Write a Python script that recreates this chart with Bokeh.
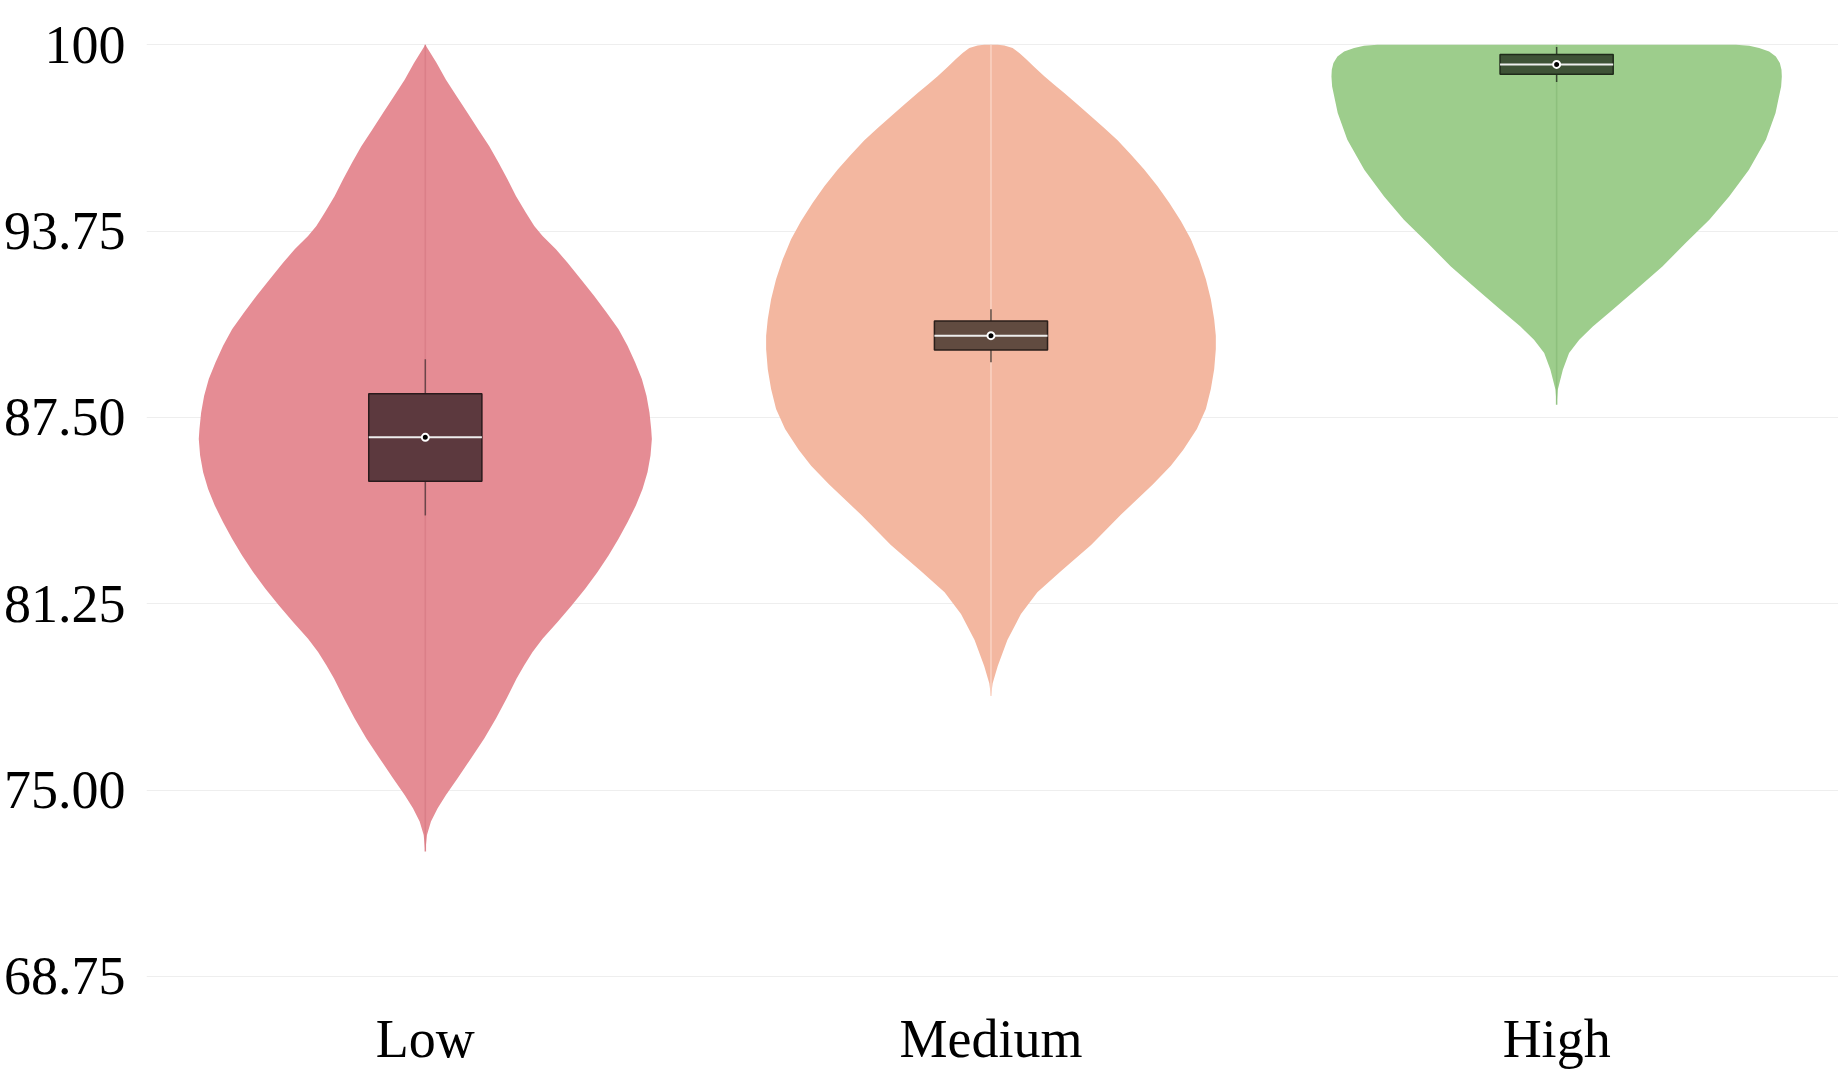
from bokeh.plotting import figure
from bokeh.models import Range1d, FixedTicker
from bokeh.embed import file_html
from bokeh.resources import INLINE

categories = ["Low", "Medium", "High"]

# violin profiles: value (y) and half-width (in category units)
low_y = [100.0, 99.386, 98.828, 98.270, 97.712, 97.154, 96.596, 96.038, 95.480, 94.922,
         94.364, 93.917, 93.583, 93.136, 92.690, 92.131, 91.573, 91.015, 90.457, 89.899,
         89.341, 88.783, 88.225, 87.667, 87.109, 86.775, 86.217, 85.659, 85.101, 84.543,
         83.985, 83.427, 82.869, 82.311, 81.753, 81.195, 80.637, 80.078, 79.632, 79.185,
         78.739, 78.069, 77.400, 76.730, 76.061, 75.391, 74.833, 74.387, 73.940, 73.494,
         72.936]
low_hw = [0.0, 0.020, 0.0365, 0.0554, 0.0748, 0.0936, 0.1131, 0.1296, 0.1455, 0.1602,
          0.1779, 0.1926, 0.2073, 0.2309, 0.2515, 0.2750, 0.2986, 0.3204, 0.3416, 0.3575,
          0.3710, 0.3828, 0.3910, 0.3963, 0.3993, 0.4005, 0.3981, 0.3928, 0.3840, 0.3722,
          0.3575, 0.3416, 0.3239, 0.3045, 0.2827, 0.2591, 0.2338, 0.2073, 0.1896, 0.1749,
          0.1614, 0.1437, 0.1249, 0.1042, 0.0807, 0.0571, 0.0365, 0.0218, 0.0100, 0.0029,
          0.0]

med_y = [100.0, 99.978, 99.888, 99.721, 99.520, 99.252, 98.940, 98.661, 98.382, 97.991,
         97.600, 97.210, 96.797, 96.317, 95.815, 95.257, 94.699, 94.085, 93.471, 92.801,
         92.131, 91.462, 90.792, 90.234, 89.788, 89.118, 88.448, 87.779, 87.109, 86.41,
         85.88, 85.25, 84.24, 83.22, 82.35, 81.63, 80.90, 80.03, 79.16, 78.58, 78.15]
med_hw = [0.012, 0.0236, 0.0383, 0.0501, 0.0619, 0.0766, 0.0943, 0.1119, 0.1296, 0.1531,
          0.1767, 0.2002, 0.2238, 0.2473, 0.2709, 0.2945, 0.3151, 0.3357, 0.3534, 0.3681,
          0.3799, 0.3887, 0.3946, 0.3975, 0.3975, 0.3946, 0.3887, 0.3799, 0.3640, 0.340,
          0.318, 0.286, 0.230, 0.177, 0.124, 0.082, 0.053, 0.029, 0.012, 0.003, 0.0]

high_y = [100.0, 99.966, 99.888, 99.776, 99.609, 99.385, 99.161, 98.938, 98.603, 97.71,
          96.81, 95.81, 94.91, 94.13, 93.35, 92.56, 91.78, 91.11, 90.55, 90.10, 89.66,
          89.10, 88.43, 87.92]
high_hw = [0.317, 0.3404, 0.358, 0.3757, 0.3875, 0.3946, 0.3975, 0.3981, 0.3969, 0.387,
           0.370, 0.340, 0.305, 0.270, 0.228, 0.187, 0.140, 0.099, 0.064, 0.040, 0.022,
           0.011, 0.002, 0.0]

# box plot statistics
q1 = [85.36, 89.76, 99.01]
q3 = [88.29, 90.73, 99.67]
medians = [86.83, 90.24, 99.34]
whisker_lo = [84.21, 89.35, 98.75]
whisker_hi = [89.45, 91.13, 99.92]

y_ticks = [68.75, 75.0, 81.25, 87.5, 93.75, 100.0]
y_tick_labels = ["68.75", "75.00", "81.25", "87.50", "93.75", "100"]

violin_colors = ["#E58C94", "#F3B7A0", "#9DCD8C"]
center_colors = ["#D97D86", "#FBD6C8", "#8CBF7B"]
box_colors = ["#5C393E", "#614B40", "#3E5236"]
box_line_colors = ["#2A1A1C", "#2A1F1A", "#1F2A1A"]
whisker_colors = ["#6A454A", "#5E4A40", "#35452F"]

FONT = "Liberation Serif"

p = figure(width=1838, height=1071, output_backend="svg", toolbar_location=None,
           x_range=Range1d(-0.4929, 2.4983), y_range=Range1d(68.174, 100.88),
           min_border_left=145, min_border_right=0, min_border_top=18, min_border_bottom=76)

p.outline_line_color = None
p.background_fill_color = "white"
p.border_fill_color = "white"
p.xgrid.grid_line_color = None
p.ygrid.grid_line_color = "#EEEEEE"
p.ygrid.grid_line_width = 1

xs = list(range(len(categories)))
profiles = [(low_y, low_hw), (med_y, med_hw), (high_y, high_hw)]

patch_xs, patch_ys = [], []
for c, (ys, hws) in zip(xs, profiles):
    right_x = [c + h for h in hws]
    left_x = [c - h for h in reversed(hws)]
    patch_xs.append(right_x + left_x)
    patch_ys.append(list(ys) + list(reversed(ys)))

p.patches(xs=patch_xs, ys=patch_ys, fill_color=violin_colors, line_color=None)

# faint center line of each violin
p.segment(x0=xs, y0=[ys[-1] for ys, _ in profiles], x1=xs, y1=[ys[0] for ys, _ in profiles],
          line_color=center_colors, line_width=1.5, line_alpha=0.9)

# whiskers
p.segment(x0=xs, y0=whisker_lo, x1=xs, y1=q1, line_color=whisker_colors, line_width=1.5)
p.segment(x0=xs, y0=q3, x1=xs, y1=whisker_hi, line_color=whisker_colors, line_width=1.5)

# boxes
box_w = 0.1
p.quad(left=[c - box_w for c in xs], right=[c + box_w for c in xs], bottom=q1, top=q3,
       fill_color=box_colors, line_color=box_line_colors, line_width=1.5)

# median line and point
p.segment(x0=[c - box_w for c in xs], y0=medians, x1=[c + box_w for c in xs], y1=medians,
          line_color="#EEEEEE", line_width=2)
p.scatter(x=xs, y=medians, marker="circle", size=7, fill_color="black",
          line_color="white", line_width=2)

# axes
p.xaxis.ticker = FixedTicker(ticks=xs)
p.xaxis.major_label_overrides = {i: name for i, name in enumerate(categories)}
p.yaxis.ticker = FixedTicker(ticks=y_ticks)
p.yaxis.major_label_overrides = {t: s for t, s in zip(y_ticks, y_tick_labels)}

for ax in (p.xaxis, p.yaxis):
    ax.axis_line_color = None
    ax.major_tick_line_color = None
    ax.minor_tick_line_color = None
    ax.major_label_text_font = FONT
    ax.major_label_text_font_size = "54px"
    ax.major_label_text_color = "black"

p.xaxis.major_label_standoff = 9
p.yaxis.major_label_standoff = 15

open("out.html", "w").write(file_html(p, INLINE))
